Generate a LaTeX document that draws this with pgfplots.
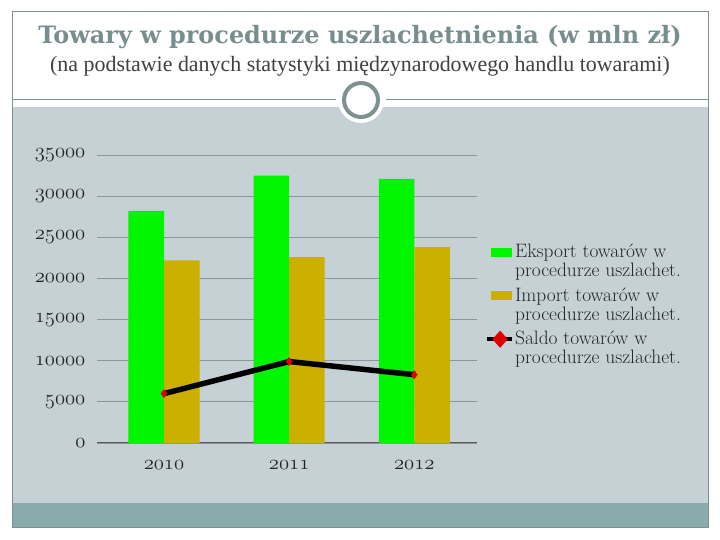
\documentclass[border=0pt]{standalone}
\usepackage{fontspec}
\usepackage{pgfplots}
\pgfplotsset{compat=1.18}
\newfontfamily\titlefont{DejaVu Serif}
\newfontfamily\subfont{Liberation Serif}

\definecolor{frameteal}{RGB}{125,145,145}
\definecolor{titleteal}{RGB}{120,142,142}
\definecolor{panelgray}{RGB}{198,209,214}
\definecolor{bandteal}{RGB}{137,171,171}
\definecolor{gridgray}{RGB}{140,150,155}
\definecolor{exportgreen}{RGB}{0,245,0}
\definecolor{importgold}{RGB}{204,176,0}
\definecolor{saldored}{RGB}{225,0,0}
\definecolor{textdark}{RGB}{35,35,35}

% old-style figures for the tick labels
\newcommand{\osn}[1]{\mbox{\usefont{OML}{cmm}{m}{it}#1}}

\begin{document}
\begin{tikzpicture}[x=1bp,y=1bp]
  % page and slide background
  \fill[white] (0,0) rectangle (720,540);
  \fill[panelgray] (12,37) rectangle (708,433);
  \fill[bandteal] (12,12) rectangle (708,37);
  \draw[frameteal, line width=1] (12,12) rectangle (708,528);
  \draw[frameteal, line width=1] (12,440) -- (336,440);
  \draw[frameteal, line width=1] (386,440) -- (708,440);
  \fill[white] (361,440) circle (23);
  \draw[frameteal, line width=4] (361,440) circle (17);

  % titles
  \node[anchor=base, text=titleteal, font=\titlefont\bfseries\fontsize{24}{28}\selectfont]
    at (360,496) {Towary w procedurze uszlachetnienia (w mln zł)};
  \node[anchor=base, text=black!75, font=\subfont\fontsize{22}{26}\selectfont]
    at (360,468) {(na podstawie danych statystyki międzynarodowego handlu towarami)};

  \begin{axis}[
    at={(164bp,97bp)}, anchor=origin,
    scale only axis, width=380bp, height=288bp,
    xmin=-0.536, xmax=2.5, ymin=0, ymax=35000,
    scaled y ticks=false,
    axis x line*=bottom, axis y line*=left,
    y axis line style={draw=none},
    x axis line style={draw=black!65, line width=1},
    ytick={0,5000,10000,15000,20000,25000,30000,35000},
    yticklabels={\osn{0},\osn{5000},\osn{10000},\osn{15000},\osn{20000},\osn{25000},\osn{30000},\osn{35000}},
    ytick style={draw=none},
    ymajorgrids, grid style={gridgray, line width=0.8},
    xtick={0,1,2},
    xticklabels={\osn{2010},\osn{2011},\osn{2012}},
    xtick style={draw=none},
    extra x ticks={0.5,1.5,2.5},
    extra x tick labels={},
    extra x tick style={grid=none, tick align=outside, major tick length=5bp,
      tick style={draw=black!65, line width=0.8}},
    tick label style={text=textdark, font=\fontsize{20}{24}\selectfont},
    yticklabel style={xshift=-8bp},
    xticklabel style={yshift=-14bp},
    legend cell align=left,
    legend style={at={(1.021,0.694)}, anchor=north west, draw=none, fill=none,
      font=\fontsize{19.5}{19}\selectfont, text=textdark,
      nodes={align=left, inner sep=1bp}, row sep=7.5bp, inner sep=0pt},
  ]
    \addplot[ybar, bar width=0.284, bar shift=-0.142, fill=exportgreen, draw=none,
      area legend,
      legend image code/.code={\fill[exportgreen] (0bp,4.5bp) rectangle (21bp,13.5bp);}]
      coordinates {(0,28200) (1,32500) (2,32100)};
    \addlegendentry{Eksport towarów w\\procedurze uszlachet.}
    \addplot[ybar, bar width=0.284, bar shift=0.142, fill=importgold, draw=none,
      area legend,
      legend image code/.code={\fill[importgold] (0bp,4.5bp) rectangle (21bp,13.5bp);}]
      coordinates {(0,22200) (1,22600) (2,23800)};
    \addlegendentry{Import towarów w\\procedurze uszlachet.}
    \addplot[black, line width=5.5, mark=diamond*, mark size=4,
      mark options={fill=saldored, draw=saldored, line width=0.5},
      legend image code/.code={
        \draw[black, line width=4] (-4bp,9bp) -- (21bp,9bp);
        \fill[saldored] (9bp,9bp) +(0,4.5bp) -- +(4bp,0) -- +(0,-4.5bp) -- +(-4bp,0) -- cycle;}]
      coordinates {(0,6000) (1,9900) (2,8300)};
    \addlegendentry{Saldo towarów w\\procedurze uszlachet.}
  \end{axis}
\end{tikzpicture}
\end{document}
